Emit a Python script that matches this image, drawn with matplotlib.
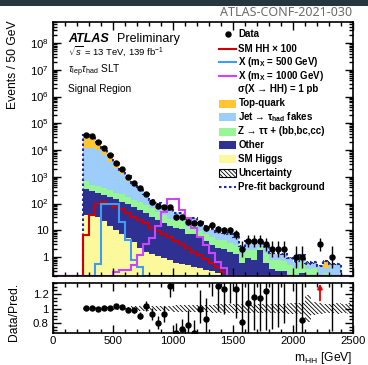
import numpy as np
import matplotlib
matplotlib.use("Agg")
import matplotlib.pyplot as plt
from matplotlib.patches import Rectangle
from matplotlib.lines import Line2D
from matplotlib.ticker import FixedLocator, LogLocator, MultipleLocator, FuncFormatter, NullFormatter, FixedFormatter

plt.rcParams['font.family'] = ['Liberation Sans', 'DejaVu Sans']
plt.rcParams['mathtext.fontset'] = 'custom'
plt.rcParams['mathtext.rm'] = 'Liberation Sans'
plt.rcParams['mathtext.it'] = 'Liberation Sans:italic'
plt.rcParams['mathtext.bf'] = 'Liberation Sans:bold'
plt.rcParams['hatch.linewidth'] = 0.6

# ---------------- data: m_HH bins of 50 GeV from 250 to 2500 GeV ----------------
bin_edges = np.arange(250, 2501, 50)

data_counts = [35650, 33600, 20000, 11400, 6400, 3300, 1870, 990, 562, 366,
               219, 116, 80, 71, 72, 30, 30, 20, 19, 19,
               12, 16, 11, 10, 10, 7, 2, 4, 4, 4,
               3, 2, 2, 2, 0, 1, 1, 0, 0, 3,
               0, 1, 0, 0, 0]

bkg_sm_higgs = [36, 40, 30, 22, 15, 10, 7, 5, 3.5, 2.2,
                1.6, 1.3, 1.1, 0.95, 0.75, 0.6, 0.55, 0.5, 0.42, 0.38,
                0.32, 0.3, 0.25, 0.22, 0.2, 0.18, 0.1, 0.1, 0.08, 0.08,
                0.06, 0.05, 0.05, 0.04, 0.03, 0.03, 0.03, 0.02, 0.02, 0.02,
                0.1, 0.02, 0.02, 0.01, 0.01]
bkg_other = [299, 257, 220, 183, 163, 132, 109, 90, 71.5, 54.8,
             41.4, 30.7, 23.9, 18.05, 13.25, 11.4, 10.45, 6.5, 7.08, 4.62,
             3.48, 2.5, 1.95, 1.78, 1.4, 1.12, 0.5, 0.8, 0.72, 1.72,
             0.54, 0.3, 0.25, 0.26, 0.17, 0.12, 0.22, 0.08, 0.08, 0.05,
             0.05, 0.05, 0.05, 0.02, 0.02]
bkg_ztautau_hf = [355, 188, 195, 160, 138, 108, 103, 83, 55, 59,
                  44, 34, 24, 18, 13, 12, 11, 6, 6.5, 4.5,
                  3.7, 2.7, 2.3, 2.2, 1.8, 1.6, 0.7, 1.0, 1.0, 0.6,
                  0.8, 0.45, 0.45, 0.4, 0.3, 0.25, 0.4, 0.25, 0.3, 0.1,
                  0.1, 0.08, 0.08, 0.05, 0.04]
bkg_jet_fakes = [10810, 11015, 9355, 6035, 3284, 1790, 1011, 522, 315, 214,
                 98, 46, 43, 35, 25, 19, 18.5, 11.6, 13.4, 8.9,
                 6.1, 4.8, 3.7, 3.5, 3.0, 2.5, 1.15, 1.7, 1.5, 1.0,
                 1.0, 0.55, 0.5, 0.5, 0.38, 0.25, 0.5, 0.23, 0.2, 0.26,
                 0.15, 0.38, 0.38, 0.06, 0.04]
bkg_top = [24100, 22000, 10200, 4890, 2740, 1160, 600, 310, 128, 77,
           28, 14, 8, 5, 3, 2, 1.5, 1, 1, 0.6,
           0.4, 0.3, 0.2, 0.2, 0.4, 0.1, 0.02, 0.1, 0.15, 0.1,
           0.02, 0.03, 0.08, 0.05, 0.02, 0.02, 0.03, 0.02, 0.02, 0.02,
           0.3, 0.02, 0.02, 0.01, 0.01]

prefit_background = [36500, 34200, 20300, 11400, 6400, 3250, 1860, 1030, 585, 415,
                     218, 130, 103, 79, 57, 46, 43, 26.5, 29, 19.5,
                     14.5, 11, 8.7, 8.1, 7.0, 5.7, 2.55, 3.8, 3.55, 3.6,
                     2.5, 1.42, 1.37, 1.29, 0.93, 0.7, 1.22, 0.62, 0.64, 0.47,
                     0.72, 0.57, 0.57, 0.16, 0.13]

bkg_rel_unc = [0.02, 0.02, 0.02, 0.02, 0.02, 0.02, 0.025, 0.025, 0.03, 0.03,
               0.035, 0.035, 0.04, 0.04, 0.04, 0.045, 0.045, 0.05, 0.05, 0.05,
               0.05, 0.055, 0.06, 0.06, 0.06, 0.065, 0.065, 0.06, 0.06, 0.06,
               0.065, 0.06, 0.06, 0.065, 0.07, 0.07, 0.07, 0.18, 0.09, 0.07,
               0.06, 0.06, 0.07, 0.06, 0.07]

sig_sm_hh_x100 = [6.6, 37, 93, 116, 95, 75, 60, 43, 32, 24,
                  18, 12.4, 9.6, 7.2, 5.4, 4.0, 3.0, 2.2, 1.6, 1.15,
                  0.85, 0.6, 0.42, 0.28] + [0] * 21
sig_x500 = [0, 0, 0.55, 95, 100, 98, 20, 4.3, 0.77, 0.43] + [0] * 35
sig_x1000 = [0, 0, 0, 0, 0, 0.28, 0.33, 0.33, 0.5, 1.2,
             3.0, 5.0, 15, 50, 150, 150, 57, 28, 11.8, 5.7,
             2.8, 1.4, 0.67, 0.38] + [0] * 21

x_ticks = [0, 500, 1000, 1500, 2000, 2500]
ratio_ticks = [0.8, 1.0, 1.2]
ratio_tick_labels = ["0.8", "1", "1.2"]

HATCH = '\\' * 8

# ---------------- figure ----------------
W, H = 368, 365
fig = plt.figure(figsize=(W / 100, H / 100), dpi=100)


def fx(px):
    return px / W


def fy(py):
    return 1 - py / H


fig.add_artist(Rectangle((0, fy(6)), 1, 6 / H, transform=fig.transFigure,
                         facecolor='#25373e', edgecolor='none'))
fig.text(fx(352), fy(12.5), "ATLAS-CONF-2021-030", ha='right', va='center',
         fontsize=9, color='#6b6b6b', family='Noto Sans')

ax = fig.add_axes([fx(53), fy(276), 300 / W, 254 / H])
rax = fig.add_axes([fx(53), fy(333), 300 / W, 50 / H])

YMIN, YMAX = 0.195, 6.1e8
RMIN, RMAX = 0.665, 1.35

edges = bin_edges.astype(float)
centers = 0.5 * (edges[:-1] + edges[1:])
counts = np.array(data_counts, dtype=float)

layers = [np.array(bkg_sm_higgs), np.array(bkg_other), np.array(bkg_ztautau_hf),
          np.array(bkg_jet_fakes), np.array(bkg_top)]
layer_colors = ['#fcf99c', '#2f3192', '#97f797', '#9dcdfa', '#ffc633']

floor = YMIN * 1e-3
cum = np.zeros(len(centers))
for vals, col in zip(layers, layer_colors):
    upper = cum + vals
    ax.stairs(upper, edges, baseline=np.maximum(cum, floor), fill=True,
              facecolor=col, edgecolor='none', linewidth=0)
    cum = upper
total = cum
rel = np.array(bkg_rel_unc)

ax.stairs(total * (1 + rel), edges, baseline=total * (1 - rel), fill=True,
          facecolor='none', edgecolor='black', linewidth=0, hatch=HATCH)

ax.stairs(np.array(prefit_background), edges, baseline=floor, color='#1f2a9e',
          linestyle=(0, (1.2, 1.2)), linewidth=1.5)

# signal lines over the full axis range, zero below 250 GeV
full_edges = np.concatenate([[0, 50, 100, 150, 200], edges])
line_floor = YMIN * 1.03
for sig, col in [(sig_sm_hh_x100, '#cc0000'), (sig_x500, '#3d9df5'),
                 (sig_x1000, '#cc44ff')]:
    vals = np.concatenate([np.zeros(5), np.array(sig, dtype=float)])
    ax.stairs(np.maximum(vals, line_floor), full_edges, baseline=None,
              color=col, linewidth=1.5)

# data with Poisson-like error bars
has = counts > 0
err_lo = np.sqrt(counts + 0.25) - 0.5
err_hi = np.sqrt(counts + 0.25) + 0.5
ax.errorbar(centers[has], counts[has], yerr=[err_lo[has], err_hi[has]],
            fmt='o', color='black', markersize=3.6, linewidth=1.0, capsize=0, zorder=10)

ax.set_yscale('log')
ax.set_xlim(0, 2500)
ax.set_ylim(YMIN, YMAX)


def log_label(v, pos):
    e = int(round(np.log10(v)))
    if e == 0:
        return "1"
    if e == 1:
        return "10"
    return r"$10^{%d}$" % e


ax.yaxis.set_major_locator(FixedLocator([10.0 ** k for k in range(0, 9)]))
ax.yaxis.set_minor_locator(LogLocator(base=10, subs=np.arange(2, 10), numticks=100))
ax.yaxis.set_major_formatter(FuncFormatter(log_label))
ax.yaxis.set_minor_formatter(NullFormatter())
ax.xaxis.set_major_locator(FixedLocator(x_ticks))
ax.xaxis.set_minor_locator(MultipleLocator(100))
ax.tick_params(axis='x', labelbottom=False)

for a in (ax, rax):
    a.tick_params(which='both', direction='in', top=True, right=True, labelsize=8.2,
                  width=1.0, pad=3)
    a.tick_params(which='major', length=6)
    a.tick_params(which='minor', length=3)
    for s in a.spines.values():
        s.set_linewidth(1.2)

# ratio panel
ratio = np.where(has, counts / np.where(total > 0, total, 1), np.nan)
r_lo = err_lo / total
r_hi = err_hi / total
rax.stairs(1 + rel, edges, baseline=1 - rel, fill=True, facecolor='none',
           edgecolor='black', linewidth=0, hatch=HATCH)
above = has & (ratio - r_lo > RMAX)
show = has & ~above
rax.errorbar(centers[show], ratio[show], yerr=[r_lo[show], r_hi[show]], fmt='o',
             color='black', markersize=3.6, linewidth=1.0, capsize=0, zorder=10)
for c in centers[above]:
    rax.annotate('', xy=(c, RMAX - 0.01), xytext=(c, 1.11),
                 arrowprops=dict(arrowstyle='-|>', color='#dd0000', lw=1.3,
                                 mutation_scale=7, shrinkA=0, shrinkB=0))
rax.set_xlim(0, 2500)
rax.set_ylim(RMIN, RMAX)
rax.xaxis.set_major_locator(FixedLocator(x_ticks))
rax.xaxis.set_minor_locator(MultipleLocator(100))
rax.yaxis.set_major_locator(FixedLocator(ratio_ticks))
rax.yaxis.set_major_formatter(FixedFormatter(ratio_tick_labels))
rax.yaxis.set_minor_locator(MultipleLocator(0.05))
rax.tick_params(axis='x', pad=2.5)

# axis titles
fig.text(fx(13.5), fy(20), "Events / 50 GeV", rotation=90, ha='center', va='top',
         fontsize=8.7)
fig.text(fx(14), fy(312), "Data/Pred.", rotation=90, ha='center', va='center',
         fontsize=8.7)
fig.text(fx(352), fy(358), r"m$_{\mathrm{HH}}$ [GeV]", ha='right', va='center',
         fontsize=8.7)

# labels inside the main panel
fig.text(fx(68), fy(39), "ATLAS", fontsize=9, fontweight='bold', style='italic',
         ha='left', va='center')
fig.text(fx(117), fy(39), "Preliminary", fontsize=9, ha='left', va='center')
fig.text(fx(68), fy(51), r"$\sqrt{s}$ = 13 TeV, 139 fb$^{-1}$", fontsize=6.8,
         ha='left', va='center')
fig.text(fx(68), fy(71), r"$\tau_{\mathrm{lep}}\tau_{\mathrm{had}}$ SLT", fontsize=7.3,
         ha='left', va='center')
fig.text(fx(68), fy(89), "Signal Region", fontsize=7.3, ha='left', va='center')

# legend
rows = [34.3, 48.5, 62.3, 76, 89.3, 103.5, 117.3, 131.5, 145, 159, 172.7, 186.7]
hx0, hx1, tx = 219, 236, 238.5
labels = ["Data", "SM HH × 100", r"X (m$_{\mathbf{X}}$ = 500 GeV)",
          r"X (m$_{\mathbf{X}}$ = 1000 GeV)", "σ(X → HH) = 1 pb",
          "Top-quark", r"Jet → τ$_{\mathbf{had}}$ fakes",
          "Z → ττ + (bb,bc,cc)", "Other", "SM Higgs",
          "Uncertainty", "Pre-fit background"]
for yrow, lab in zip(rows, labels):
    fig.text(fx(tx), fy(yrow), lab, fontsize=7, fontweight='bold', ha='left', va='center')

fig.add_artist(Line2D([fx(228)], [fy(rows[0])], marker='o', color='black',
                      markersize=3.6, transform=fig.transFigure))
for yrow, col in zip(rows[1:4], ['#cc0000', '#3d9df5', '#cc44ff']):
    fig.add_artist(Line2D([fx(hx0), fx(hx1)], [fy(yrow), fy(yrow)], color=col,
                          linewidth=1.5, transform=fig.transFigure))
for yrow, col in zip(rows[5:10], layer_colors[::-1]):
    fig.add_artist(Rectangle((fx(hx0), fy(yrow + 4)), (hx1 - hx0) / W, 8 / H,
                             transform=fig.transFigure, facecolor=col, edgecolor='none'))
fig.add_artist(Rectangle((fx(hx0), fy(rows[10] + 4)), (hx1 - hx0) / W, 8 / H,
                         transform=fig.transFigure, facecolor='white', edgecolor='black',
                         linewidth=0.8, hatch=HATCH))
fig.add_artist(Line2D([fx(hx0), fx(hx1)], [fy(rows[11]), fy(rows[11])], color='#1f2a9e',
                      linestyle=(0, (1.2, 1.2)), linewidth=1.5, transform=fig.transFigure))

fig.savefig("out.png", dpi=100)
